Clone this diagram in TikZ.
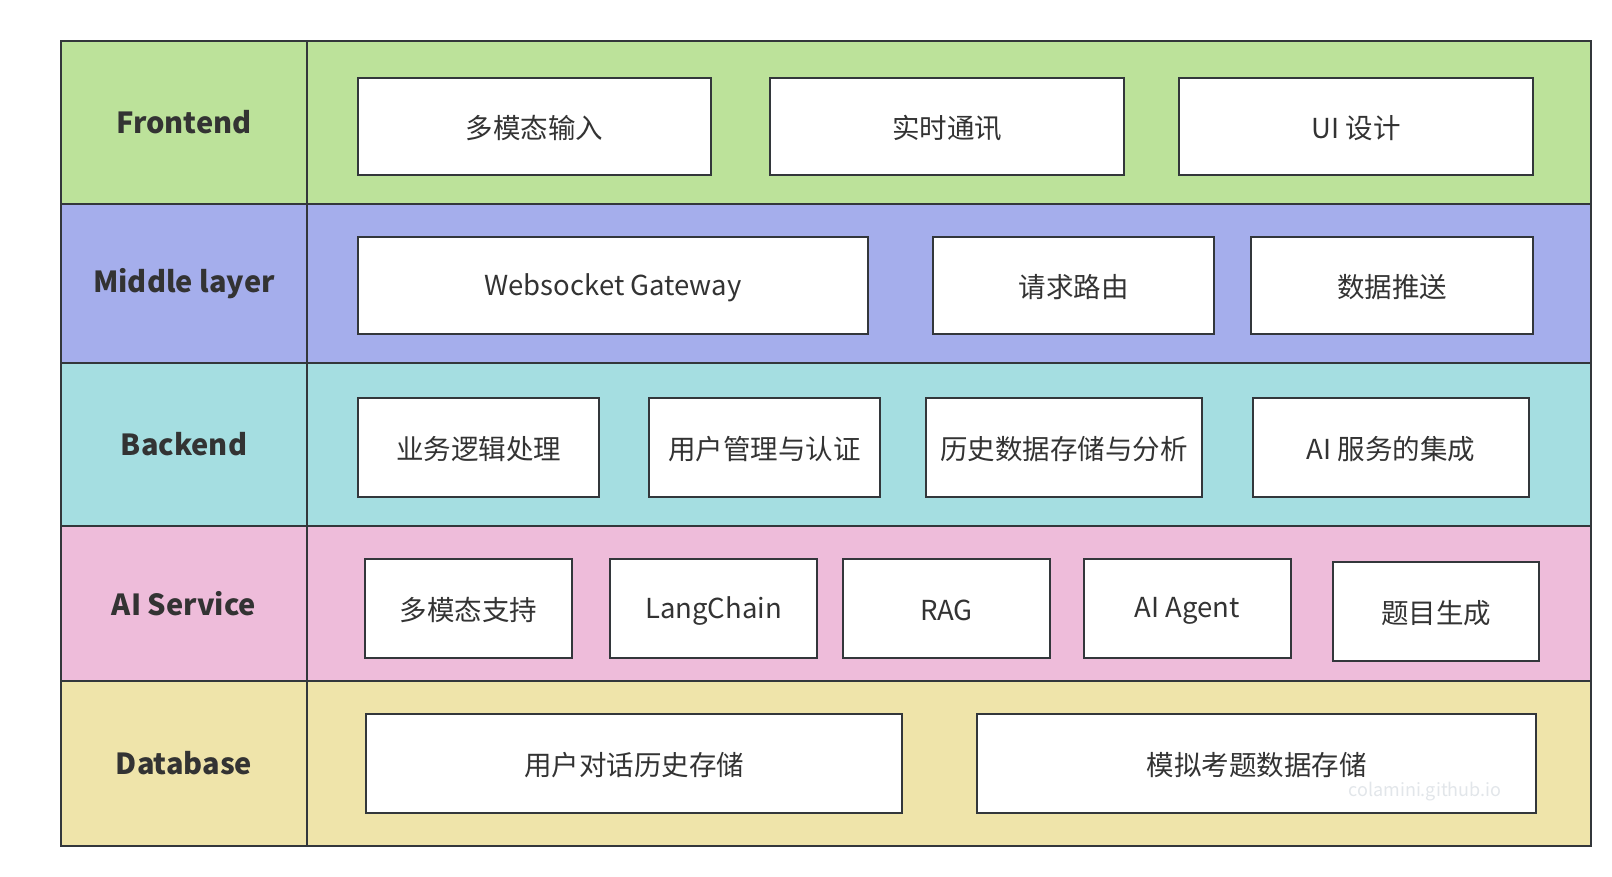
\documentclass[tikz,border=0pt]{standalone}
\usepackage{fontspec}
\setmainfont{Noto Sans CJK SC}
\definecolor{cFront}{HTML}{BCE29A}
\definecolor{cMid}{HTML}{A5AEEC}
\definecolor{cBack}{HTML}{A5DEE1}
\definecolor{cAI}{HTML}{EEBCDA}
\definecolor{cDB}{HTML}{EFE4AA}
\definecolor{cLine}{HTML}{33373B}
\definecolor{cText}{HTML}{333333}
\definecolor{cMark}{HTML}{E2E6EA}
\tikzset{
  rowcell/.style={draw=cLine, line width=2pt, inner sep=0pt, outer sep=0pt},
  rowlabel/.style={rowcell, text=cText, font=\fontsize{29}{34}\selectfont\bfseries},
  cell/.style={draw=cLine, fill=white, line width=2pt, inner sep=0pt, outer sep=0pt, text=cText, font=\fontsize{27.5}{32}\selectfont},
  celltext/.style={text=cText, font=\fontsize{27.5}{32}\selectfont, inner sep=0pt},
}
\begin{document}
\begin{tikzpicture}[x=1pt,y=-1pt]
\useasboundingbox[fill=white] (0,0) rectangle (1612,876);
% rows
\node[rowcell, fill=cFront, minimum width=1284, minimum height=163] (frontR) at (949,122.5) {};
\node[rowlabel, fill=cFront, minimum width=246, minimum height=163] (frontL) at (184,122.5) {Frontend};
\node[rowcell, fill=cMid, minimum width=1284, minimum height=159] (midR) at (949,283.5) {};
\node[rowlabel, fill=cMid, minimum width=246, minimum height=159] (midL) at (184,283.5) {Middle layer};
\node[rowcell, fill=cBack, minimum width=1284, minimum height=163] (backR) at (949,444.5) {};
\node[rowlabel, fill=cBack, minimum width=246, minimum height=163] (backL) at (184,444.5) {Backend};
\node[rowcell, fill=cAI, minimum width=1284, minimum height=155] (aiR) at (949,603.5) {};
\node[rowlabel, fill=cAI, minimum width=246, minimum height=155] (aiL) at (184,603.5) {AI Service};
\node[rowcell, fill=cDB, minimum width=1284, minimum height=165] (dbR) at (949,763.5) {};
\node[rowlabel, fill=cDB, minimum width=246, minimum height=165] (dbL) at (184,763.5) {Database};
% Frontend
\node[cell, minimum width=353, minimum height=97] (f1) at (534.5,126.5) {};
\node[cell, minimum width=354, minimum height=97] (f2) at (947,126.5) {};
\node[cell, minimum width=354, minimum height=97] (f3) at (1356,126.5) {};
% Middle
\node[cell, minimum width=510, minimum height=97] (m1) at (613,285.5) {};
\node[cell, minimum width=281, minimum height=97] (m2) at (1073.5,285.5) {};
\node[cell, minimum width=282, minimum height=97] (m3) at (1392,285.5) {};
% Backend
\node[cell, minimum width=241, minimum height=99] (b1) at (478.5,447.5) {};
\node[cell, minimum width=231, minimum height=99] (b2) at (764.5,447.5) {};
\node[cell, minimum width=276, minimum height=99] (b3) at (1064,447.5) {};
\node[cell, minimum width=276, minimum height=99] (b4) at (1391,447.5) {};
% AI service
\node[cell, minimum width=207, minimum height=99] (a1) at (468.5,608.5) {};
\node[cell, minimum width=207, minimum height=99] (a2) at (713.5,608.5) {};
\node[cell, minimum width=207, minimum height=99] (a3) at (946.5,608.5) {};
\node[cell, minimum width=207, minimum height=99] (a4) at (1187.5,608.5) {};
\node[cell, minimum width=206, minimum height=99] (a5) at (1436,611.5) {};
% Database
\node[cell, minimum width=536, minimum height=99] (d1) at (634,763.5) {};
\node[cell, minimum width=559, minimum height=99] (d2) at (1256.5,763.5) {};
% texts
\foreach \n/\t in {f1/多模态输入, f2/实时通讯, f3/UI 设计, m1/Websocket Gateway, m2/请求路由, m3/数据推送,
  b1/业务逻辑处理, b2/用户管理与认证, b3/历史数据存储与分析, b4/AI 服务的集成,
  a1/多模态支持, a2/LangChain, a3/RAG, a4/AI Agent, a5/题目生成,
  d1/用户对话历史存储, d2/模拟考题数据存储}
  \node[celltext, yshift=-2pt] (\n-t) at (\n) {\t};
\node[text=cMark, font=\fontsize{18}{20}\selectfont, inner sep=0pt] (mark) at (1425,792) {colamini.github.io};
\end{tikzpicture}
\end{document}
